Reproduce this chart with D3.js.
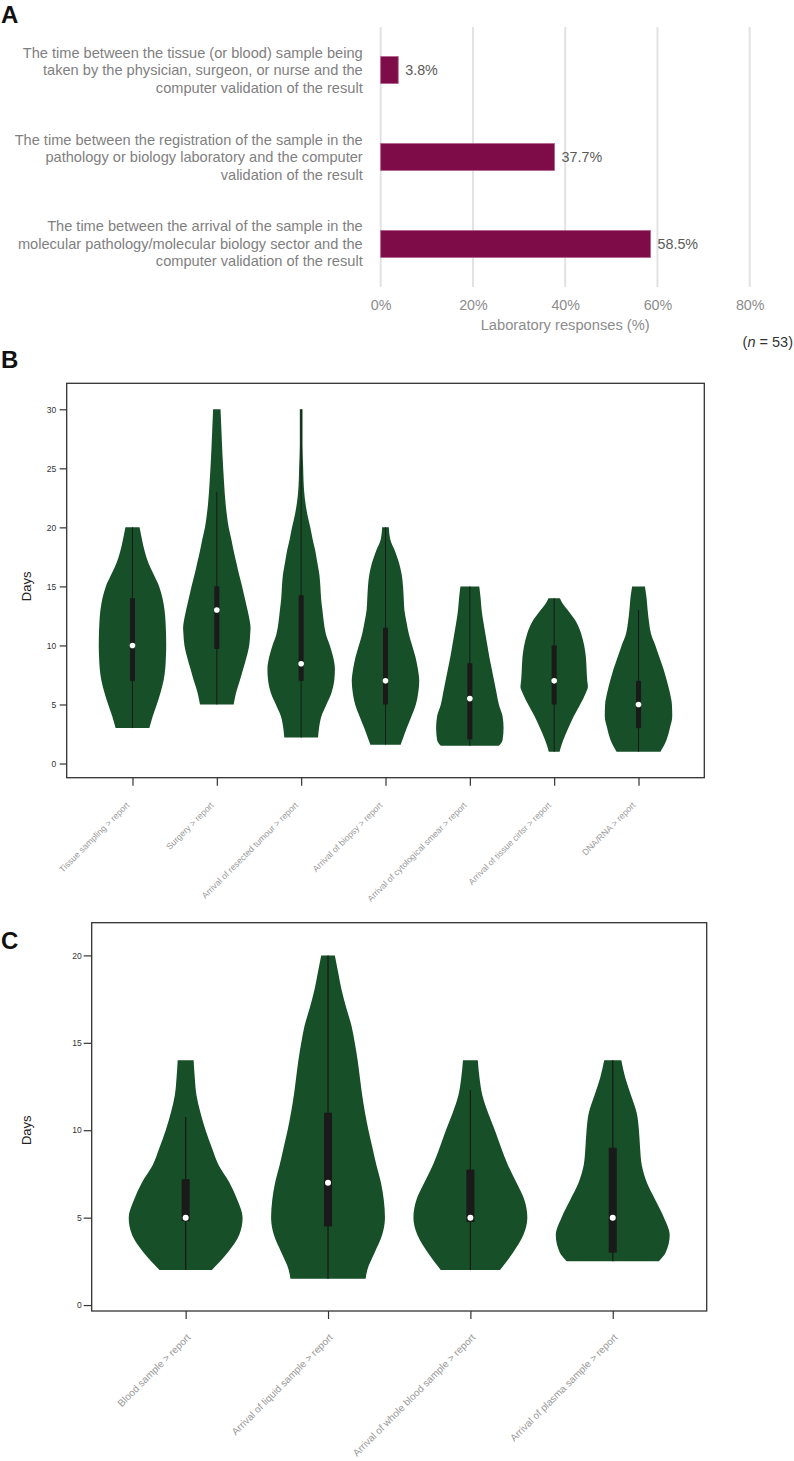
<!DOCTYPE html>
<html>
<head>
<meta charset="utf-8">
<script src="https://cdn.jsdelivr.net/npm/d3@7"></script>
<style>
  body { margin: 0; background: #fff; }
  svg { display: block; font-family: "Liberation Sans", Arial, sans-serif; }
</style>
</head>
<body>
<svg id="chart" width="794" height="1461"></svg>
<script>
// ---- panel A: which interval is measured as turnaround time
const intervalLabels = [
  ["The time between the tissue (or blood) sample being",
   "taken by the physician, surgeon, or nurse and the",
   "computer validation of the result"],
  ["The time between the registration of the sample in the",
   "pathology or biology laboratory and the computer",
   "validation of the result"],
  ["The time between the arrival of the sample in the",
   "molecular pathology/molecular biology sector and the",
   "computer validation of the result"]
];
const intervalShares = [3.8, 37.7, 58.5];
const shareTicks = [0, 20, 40, 60, 80];
const sampleSize = 53;

// ---- panel B: tissue samples, days
const tissueCategories = [
  "Tissue sampling > report",
  "Surgery > report",
  "Arrival of resected tumour > report",
  "Arrival of biopsy > report",
  "Arrival of cytological smear > report",
  "Arrival of tissue cirlsr > report",
  "DNA/RNA > report"
];
// [days, relative density]
const tissueDensity = [
  [[3,0.5],[4,0.6],[5,0.72],[6,0.83],[7,0.92],[8,0.97],[9,0.99],[10,1],[12,0.98],[13,0.95],[14,0.89],[15,0.79],[16,0.63],[17,0.47],[18,0.36],[19,0.28],[20,0.21]],
  [[5,0.5],[6,0.57],[7,0.68],[8,0.78],[9,0.88],[10,0.96],[11,0.99],[11.5,1],[12,0.98],[13,0.91],[14,0.83],[15,0.75],[16,0.66],[17,0.58],[18,0.5],[19,0.43],[20,0.35],[21,0.3],[22,0.26],[24,0.21],[26,0.17],[28,0.14],[30,0.11]],
  [[2.2,0.5],[3,0.53],[4,0.6],[5,0.75],[6,0.9],[7,0.98],[8,1],[9,0.95],[10,0.85],[11,0.73],[12,0.67],[13,0.63],[14,0.59],[15,0.57],[16,0.54],[17,0.48],[18,0.42],[19,0.34],[20,0.27],[21,0.19],[22,0.13],[23,0.09],[24,0.07],[25,0.06],[27,0.04],[30,0.04]],
  [[1.6,0.45],[2,0.5],[3,0.63],[4,0.77],[5,0.9],[6,0.97],[7,1],[8,0.96],[9,0.89],[10,0.79],[11,0.69],[12,0.62],[13,0.56],[14,0.54],[15,0.52],[16,0.48],[17,0.4],[18,0.28],[19,0.14],[20,0.1]],
  [[1.5,0.86],[2,0.97],[3,1],[4,0.97],[5,0.86],[6,0.79],[7,0.72],[8,0.65],[9,0.58],[10,0.52],[11,0.46],[12,0.4],[13,0.35],[14,0.32],[15,0.28]],
  [[1,0.16],[1.5,0.21],[2,0.27],[3,0.42],[4,0.58],[5,0.77],[6,0.94],[6.5,1],[7,0.98],[8,0.96],[9,0.94],[10,0.89],[11,0.8],[12,0.65],[13,0.4],[13.5,0.26],[14,0.17]],
  [[1,0.65],[2,0.83],[3,0.93],[4,1],[5,0.99],[6,0.93],[7,0.84],[8,0.74],[9,0.62],[10,0.5],[11,0.37],[12,0.31],[13,0.27],[14,0.24],[15,0.19]]
];
const tissueLow    = [3, 5, 2.2, 1.6, 1.5, 1, 1];
const tissueQ1     = [7, 9.7, 7, 5, 2.05, 5, 3];
const tissueMedian = [10, 13, 8.45, 7, 5.5, 7, 5];
const tissueQ3     = [14, 15, 14.25, 11.5, 8.5, 10, 7];
const tissueHigh   = [20, 23, 30, 20, 15, 14, 13];
const tissueDayTicks = [0, 5, 10, 15, 20, 25, 30];

// ---- panel C: liquid samples, days
const liquidCategories = [
  "Blood sample > report",
  "Arrival of liquid sample > report",
  "Arrival of whole blood sample > report",
  "Arrival of plasma sample > report"
];
const liquidDensity = [
  [[2,0.46],[3,0.74],[4,0.94],[5,1],[6,0.91],[7,0.77],[8,0.58],[9,0.46],[10,0.35],[11,0.26],[12,0.19],[13,0.16],[14,0.14]],
  [[1.5,0.66],[2,0.69],[3,0.82],[4,0.95],[5,1],[6,0.98],[7,0.93],[8,0.85],[9,0.78],[10,0.71],[11,0.65],[12,0.6],[13,0.56],[14,0.52],[15,0.47],[16,0.41],[17,0.32],[18,0.24],[19,0.18],[20,0.12]],
  [[2,0.52],[3,0.75],[4,0.93],[5,1],[6,0.95],[7,0.81],[8,0.66],[9,0.54],[10,0.43],[11,0.31],[12,0.21],[13,0.16],[14,0.13]],
  [[2.5,0.81],[3,0.93],[4,1],[5,0.9],[6,0.75],[7,0.6],[8,0.51],[9,0.48],[10,0.46],[11,0.42],[12,0.32],[13,0.22],[14,0.15]]
];
const liquidLow    = [2, 1.5, 2, 2.5];
const liquidQ1     = [4.8, 4.5, 4.75, 3];
const liquidMedian = [5, 7, 5, 5];
const liquidQ3     = [7.2, 11, 7.75, 9];
const liquidHigh   = [10.75, 20, 12.3, 14];
const liquidDayTicks = [0, 5, 10, 15, 20];

const svg = d3.select("#chart");
const violinGreen = "#164f28";
const boxBlack = "#1a1a1a";

// panel letters
svg.append("g").selectAll("text")
  .data([["A", 23], ["B", 368], ["C", 949]])
  .join("text")
    .attr("x", 1)
    .attr("y", d => d[1])
    .attr("font-size", 24)
    .attr("font-weight", "bold")
    .attr("fill", "#111")
    .text(d => d[0]);

// ================= panel A
const gA = svg.append("g");
const xA = d3.scaleLinear().domain([0, 80]).range([380.7, 749.7]);
const yA = d3.scaleBand().domain(d3.range(intervalShares.length))
  .range([27, 287]).paddingInner(0.69).paddingOuter(0.34);

gA.append("g").selectAll("line")
  .data(shareTicks)
  .join("line")
    .attr("x1", d => xA(d)).attr("x2", d => xA(d))
    .attr("y1", 27).attr("y2", 287)
    .attr("stroke", "#e2e2e2")
    .attr("stroke-width", 2);

gA.append("g").selectAll("rect")
  .data(intervalShares)
  .join("rect")
    .attr("x", xA(0))
    .attr("y", (d, i) => yA(i))
    .attr("width", d => xA(d) - xA(0))
    .attr("height", yA.bandwidth())
    .attr("fill", "#7d0c48")
    .attr("stroke", "#b5618c")
    .attr("stroke-width", 0.8);

gA.append("g").selectAll("text")
  .data(intervalShares)
  .join("text")
    .attr("x", d => xA(d) + 7)
    .attr("y", (d, i) => yA(i) + yA.bandwidth() / 2)
    .attr("dy", "0.36em")
    .attr("font-size", 14.3)
    .attr("fill", "#5a5a5a")
    .text(d => d.toFixed(1) + "%");

const catText = gA.append("g").selectAll("text")
  .data(intervalLabels)
  .join("text")
    .attr("text-anchor", "end")
    .attr("font-size", 14.6)
    .attr("fill", "#7f7f7f");
catText.selectAll("tspan")
  .data((d, i) => d.map((line, j) => ({ line, j, n: d.length, i })))
  .join("tspan")
    .attr("x", 362.7)
    .attr("y", d => yA(d.i) + yA.bandwidth() / 2 + (d.j - (d.n - 1) / 2) * 17.5 + 5)
    .text(d => d.line);

const axA = gA.append("g")
  .attr("transform", "translate(0,287)")
  .call(d3.axisBottom(xA).tickValues(shareTicks).tickFormat(d => d + "%").tickSize(0).tickPadding(13));
axA.select(".domain").remove();
axA.selectAll("text").attr("font-size", 14.3).attr("fill", "#8c8c8c")
  .attr("font-family", "'Liberation Sans', Arial, sans-serif");

gA.append("text")
  .attr("x", xA(40)).attr("y", 330)
  .attr("text-anchor", "middle")
  .attr("font-size", 14.7)
  .attr("fill", "#8c8c8c")
  .text("Laboratory responses (%)");

const nText = gA.append("text")
  .attr("x", 793).attr("y", 347)
  .attr("text-anchor", "end")
  .attr("font-size", 14.5)
  .attr("fill", "#333");
nText.append("tspan").text("(");
nText.append("tspan").attr("font-style", "italic").text("n");
nText.append("tspan").text(" = " + sampleSize + ")");

// ================= violin panels
function violinPanel(opts) {
  const { frame, categories, density, low, q1, median, q3, high, ticks, yDomain } = opts;
  const g = svg.append("g");

  const x = d3.scalePoint().domain(categories).range([frame.left, frame.right]).padding(opts.xPad);
  const y = d3.scaleLinear().domain(yDomain).range([frame.bottom, frame.top]);
  const w = d3.scaleLinear().domain([0, 1]).range([0, x.step() * 0.4]);

  const area = d3.area()
    .curve(d3.curveMonotoneY)
    .y(d => y(d[0]))
    .x0(d => -w(d[1]))
    .x1(d => w(d[1]));

  const v = g.append("g").selectAll("g")
    .data(categories)
    .join("g")
      .attr("transform", d => `translate(${x(d)},0)`);

  v.append("path")
    .attr("d", (d, i) => area(density[i]))
    .attr("fill", violinGreen);

  v.append("line")
    .attr("y1", (d, i) => y(low[i]))
    .attr("y2", (d, i) => y(high[i]))
    .attr("stroke", boxBlack)
    .attr("stroke-width", opts.whiskerWidth);

  v.append("rect")
    .attr("x", -opts.boxWidth / 2)
    .attr("width", opts.boxWidth)
    .attr("y", (d, i) => y(q3[i]))
    .attr("height", (d, i) => y(q1[i]) - y(q3[i]))
    .attr("fill", boxBlack);

  v.append("circle")
    .attr("cy", (d, i) => y(median[i]))
    .attr("r", opts.dotR)
    .attr("fill", "#fff");

  g.append("rect")
    .attr("x", frame.left).attr("y", frame.top)
    .attr("width", frame.right - frame.left)
    .attr("height", frame.bottom - frame.top)
    .attr("fill", "none")
    .attr("stroke", "#333")
    .attr("stroke-width", 1.3);

  const ay = g.append("g")
    .attr("transform", `translate(${frame.left},0)`)
    .call(d3.axisLeft(y).tickValues(ticks).tickSize(opts.yTick).tickPadding(opts.yPad));
  ay.select(".domain").remove();
  ay.selectAll("line").attr("stroke", "#333").attr("stroke-width", 1.2);
  ay.selectAll("text").attr("font-size", 8.5).attr("fill", "#333")
    .attr("font-family", "'Liberation Sans', Arial, sans-serif");

  const ax = g.append("g")
    .attr("transform", `translate(0,${frame.bottom})`)
    .call(d3.axisBottom(x).tickSize(8));
  ax.select(".domain").remove();
  ax.selectAll("line").attr("stroke", "#333").attr("stroke-width", 1.2);
  ax.selectAll("text")
    .attr("y", null).attr("dy", null)
    .attr("text-anchor", "end")
    .attr("transform", `translate(${opts.labelDx},${opts.labelDy}) rotate(-45)`)
    .attr("font-size", opts.labelSize)
    .attr("fill", "#999")
    .attr("font-family", "'Liberation Sans', Arial, sans-serif");

  const mid = (ticks[0] + ticks[ticks.length - 1]) / 2;
  g.append("text")
    .attr("transform", `translate(30.5,${y(mid)}) rotate(-90)`)
    .attr("text-anchor", "middle")
    .attr("font-size", 13)
    .attr("fill", "#222")
    .text("Days");
}

violinPanel({
  frame: { left: 66.7, top: 383.3, right: 704.3, bottom: 777.7 },
  categories: tissueCategories, density: tissueDensity,
  low: tissueLow, q1: tissueQ1, median: tissueMedian, q3: tissueQ3, high: tissueHigh,
  ticks: tissueDayTicks, yDomain: [-1.2, 32.2], xPad: 0.78,
  boxWidth: 5, whiskerWidth: 1, dotR: 2.8,
  yTick: 7, yPad: 3.5, labelDx: -3, labelDy: 28, labelSize: 8.7
});

violinPanel({
  frame: { left: 91.7, top: 922.7, right: 706.7, bottom: 1311 },
  categories: liquidCategories, density: liquidDensity,
  low: liquidLow, q1: liquidQ1, median: liquidMedian, q3: liquidQ3, high: liquidHigh,
  ticks: liquidDayTicks, yDomain: [-0.34, 21.87], xPad: 0.66,
  boxWidth: 8, whiskerWidth: 1.3, dotR: 3,
  yTick: 8, yPad: 2, labelDx: 5, labelDy: 27, labelSize: 10
});
</script>
</body>
</html>
